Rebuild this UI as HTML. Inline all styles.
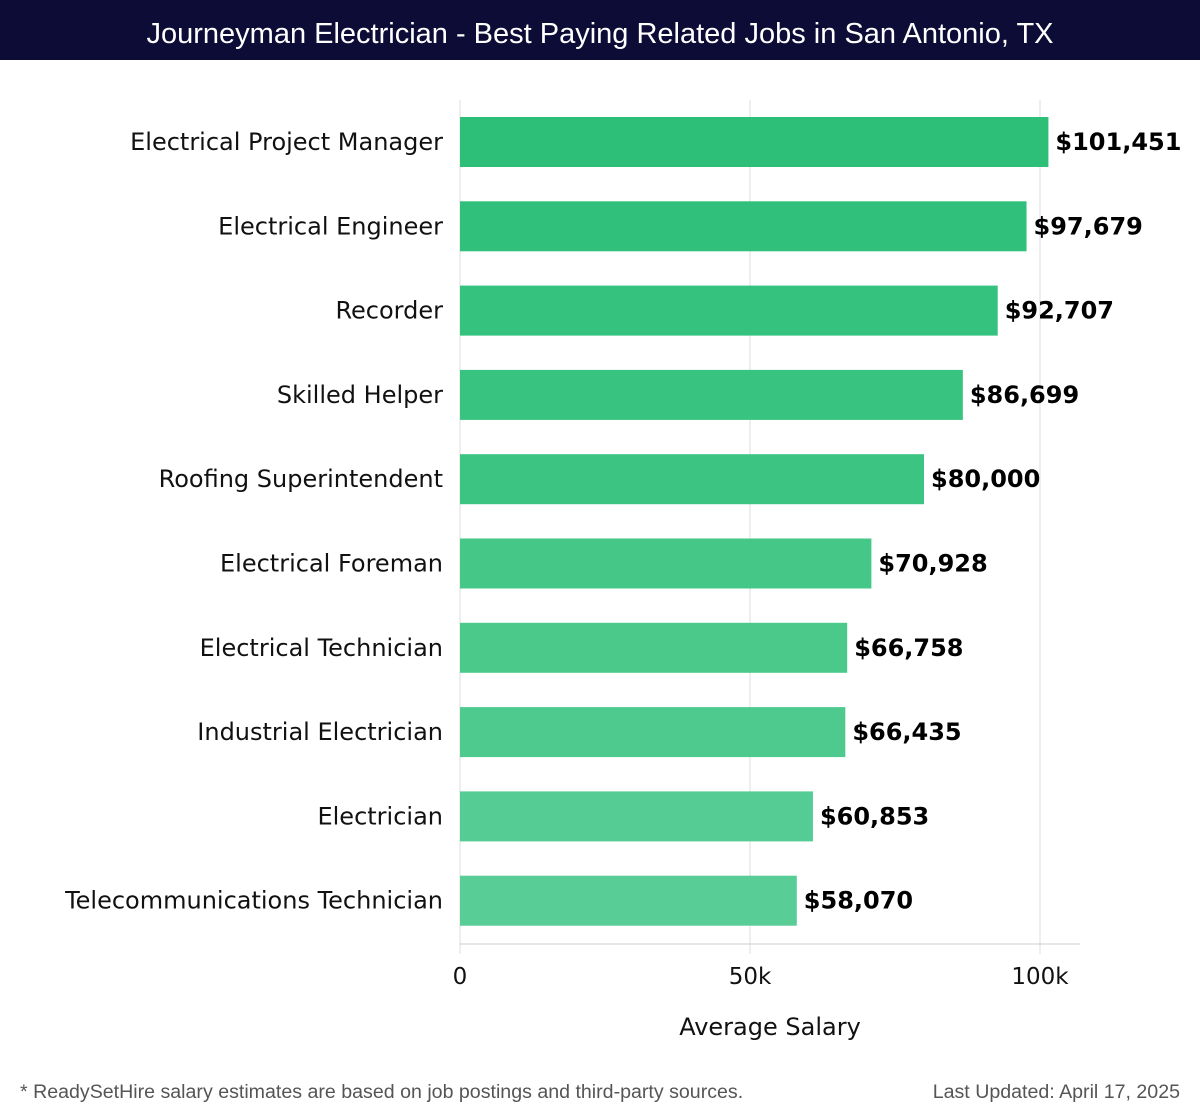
<!DOCTYPE html>
<html><head><meta charset="utf-8"><style>
body{margin:0;width:1200px;height:1120px;background:#fff;overflow:hidden;font-family:"DejaVu Sans","Liberation Sans",sans-serif}
#title{position:absolute;left:0;top:0;width:1200px;height:60px;background:#0c0c36;color:#fff;font:29px "Liberation Sans",sans-serif;font-weight:300;text-align:center;line-height:68px}
.foot{position:absolute;top:1081px;font:19.6px "Liberation Sans",sans-serif;color:#555}
</style></head><body>
<div id="title">Journeyman Electrician - Best Paying Related Jobs in San Antonio, TX</div>
<svg id="chart" width="1200" height="1120" style="position:absolute;left:0;top:0"></svg>
<div class="foot" style="left:20px">* ReadySetHire salary estimates are based on job postings and third-party sources.</div>
<div class="foot" style="right:20px">Last Updated: April 17, 2025</div>
<script>
const categories=["Electrical Project Manager","Electrical Engineer","Recorder","Skilled Helper","Roofing Superintendent","Electrical Foreman","Electrical Technician","Industrial Electrician","Electrician","Telecommunications Technician"];
const values=[101451,97679,92707,86699,80000,70928,66758,66435,60853,58070];
const tickValues=[0,50000,100000];
const tickLabels=["0","50k","100k"];
const colors=["#2dbf78","#31c07b","#35c27e","#38c380","#3cc482","#45c788","#4bc98b","#4fca8e","#54cc93","#58cd96"];
const NS="http://www.w3.org/2000/svg",svg=document.getElementById('chart');
const x=v=>460+v*0.0058;
const yc=i=>142+i*84.3;
function mk(t,a){const e=document.createElementNS(NS,t);for(const k in a)e.setAttribute(k,a[k]);svg.appendChild(e);return e;}
tickValues.forEach((v,i)=>{
 const g=mk('line',{x1:x(v),x2:x(v),y1:100,y2:954,stroke:'#ddd','stroke-width':1});
 
 
 const t=mk('text',{x:x(v),y:984,'text-anchor':'middle','font-size':23,fill:'#111'});
 t.textContent=tickLabels[i];
 
 
});
const ax=mk('line',{x1:460,x2:1080,y1:944,y2:944,stroke:'#ccc','stroke-width':1});


const at=mk('text',{x:770,y:1035,'text-anchor':'middle','font-size':24,fill:'#111'});
at.textContent='Average Salary';


categories.forEach((c,i)=>{
 const r=mk('rect',{x:x(0),y:yc(i)-25,width:x(values[i])-x(0),height:50,fill:colors[i]});
 
 
 const l=mk('text',{x:443,y:yc(i)+8,'text-anchor':'end','font-size':24,fill:'#111'});
 l.textContent=c;
 
 
 const v=mk('text',{x:x(values[i])+7,y:yc(i)+8,'font-size':24,'font-weight':'bold',fill:'#000'});
 v.textContent='$'+values[i].toLocaleString('en-US');
 
 
});
</script>
</body></html>
